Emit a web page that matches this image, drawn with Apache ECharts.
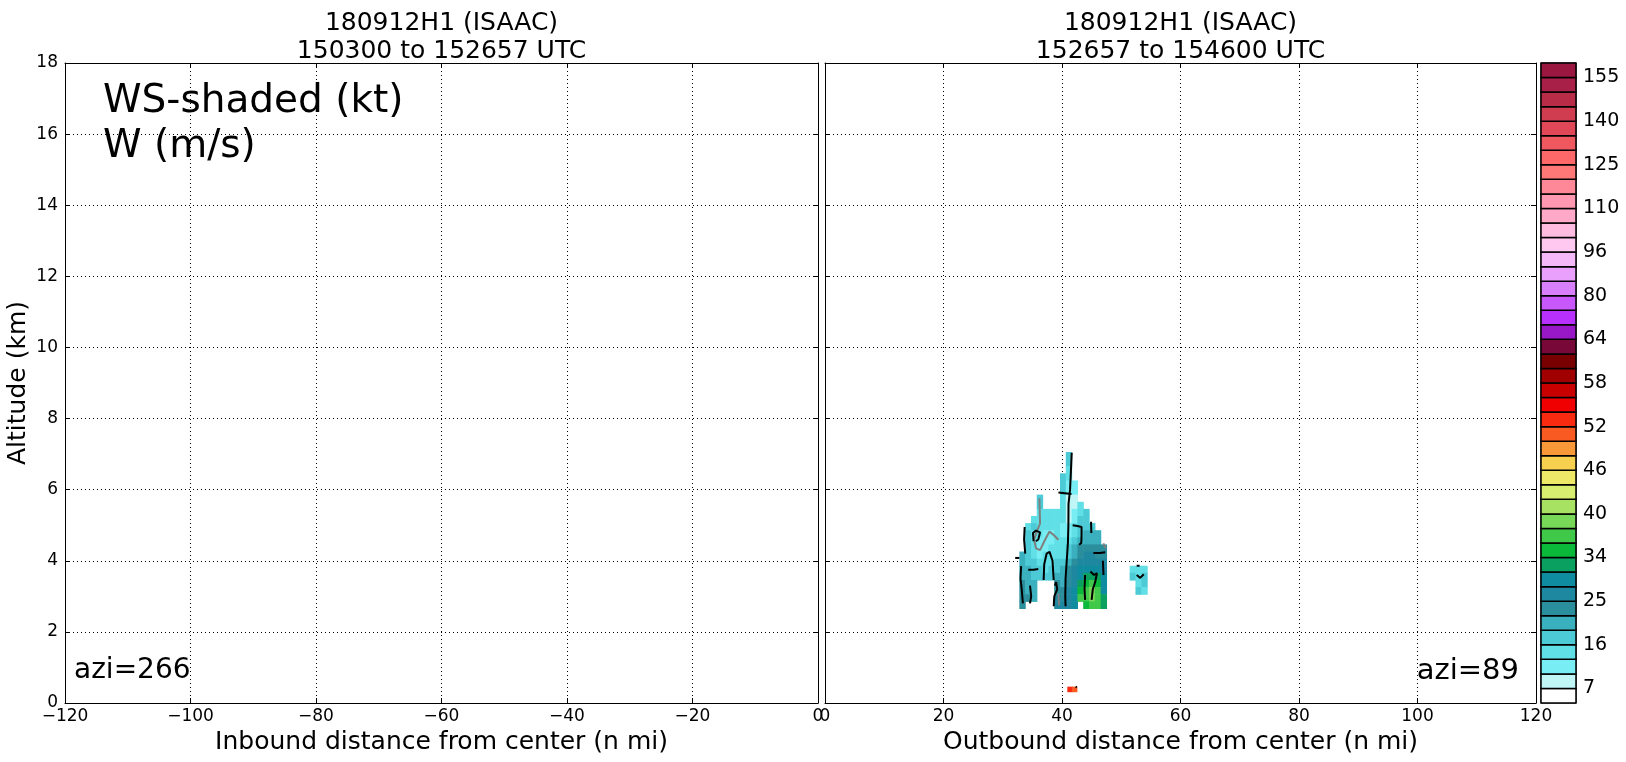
<!DOCTYPE html>
<html><head><meta charset="utf-8">
<script src="https://cdn.jsdelivr.net/npm/echarts@6/dist/echarts.min.js"></script>
<style>html,body{margin:0;padding:0;background:#fff}#c{width:1626px;height:762px}</style>
</head><body><div id="c"></div>
<script>
const FONT = 'DejaVu Sans';

// colour levels (kt) and colours of the WS shading, bottom to top
const levels = [0,7,10,13,16,19,22,25,28,31,34,36,38,40,42,44,46,48,50,52,54,56,58,60,62,64,69,75,80,85,91,96,101,105,110,115,120,125,130,135,140,145,150,155,160];
const colors = ['#ffffff','#c0f6f6','#78eef4','#60dfe6','#4ccad6','#3ab0bf','#2a8e9c','#1e88a0','#108ca0','#0aa060',
  '#0ab83a','#40c848','#78d858','#a8e262','#d8ee70','#eee868','#f8d050','#f89838','#f85a22','#f82a10',
  '#f00000','#c80000','#a00000','#780000','#780838','#9818c8','#b830fc','#c858fc','#d880fc','#e8a0fc',
  '#f4b8f8','#ffc8f0','#ffbce0','#ffa8c8','#ff98b0','#ff8898','#ff7878','#ff6868','#f05860','#e04858',
  '#d03c50','#b82c48','#a82048','#9a1840'];
const cbTickIndex = [1,4,7,10,13,16,19,22,25,28,31,34,37,40,43];
const cbTickLabels = ['7','16','25','34','40','46','52','58','64','80','96','110','125','140','155'];

// main WS field (kt), rows top -> bottom; grid origin / spacing in data units
const wsX0 = 32.8, wsDX = 0.98, wsY0 = 2.66, wsDY = 0.2;
const wsRows = [
  [0,0,0,0,0,0,0,0,17,0,0,0,0,0,0],
  [0,0,0,0,0,0,0,0,16,0,0,0,0,0,0],
  [0,0,0,0,0,0,0,0,15,0,0,0,0,0,0],
  [0,0,0,0,0,0,0,17,14,0,0,0,0,0,0],
  [0,0,0,0,0,0,0,16,12,12,0,0,0,0,0],
  [0,0,0,0,0,0,0,16,10,10,0,0,0,0,0],
  [0,0,0,17,0,0,0,15,9,9,0,0,0,0,0],
  [0,0,0,16,0,0,0,15,8,9,14,0,0,0,0],
  [0,0,0,15,15,15,15,14,8,10,15,16,0,0,0],
  [0,0,15,14,14,14,14,13,9,11,16,17,0,0,0],
  [0,15,16,14,13,13,14,12,10,13,17,18,18,0,0],
  [0,16,15,13,12,12,13,12,12,15,18,19,19,19,0],
  [0,17,14,12,11,12,13,13,14,17,20,21,21,20,0],
  [0,16,14,11,12,13,14,14,16,19,22,23,23,22,22],
  [19,17,15,12,13,14,15,15,18,21,24,25,25,24,24],
  [20,18,16,15,14,15,17,17,20,23,26,27,27,27,26],
  [21,19,17,16,15,16,18,19,22,25,28,29,30,29,27],
  [21,20,18,17,16,17,20,20,23,26,30,32,33,32,28],
  [22,20,19,0,0,0,22,21,24,27,33,35,36,35,29],
  [22,21,20,0,0,0,24,22,25,28,35,37,38,36,30],
  [23,22,21,0,0,0,25,24,26,29,36,37,38,37,32],
  [24,0,0,0,0,0,26,26,27,29,0,35,37,36,33]
];
// small blob near 53 n mi
const blobX0 = 51.42, blobY0 = 3.06;
const blobRows = [
  [15,14,15],
  [16,15,16],
  [0,15,16],
  [0,16,15]
];
// red patch near the surface
const redX0 = 40.9, redY0 = 0.32, redDX = 0.8, redDY = 0.14;
const redRows = [[53,50]];

// W contours (m/s)
const wBlack = [
  [[41.64,7.04],[41.5,6.5],[41.36,6.0],[41.1,5.6],[41.08,5.0],[41.0,4.5],[40.8,4.0],[40.6,3.5],[40.55,3.0],[40.6,2.72]],
  [[39.4,5.92],[40.5,5.9],[41.6,5.88]],
  [[41.8,5.0],[42.6,4.98],[43.3,4.95],[43.3,4.7],[43.25,4.5],[42.9,4.45]],
  [[44.9,5.1],[44.95,4.78]],
  [[33.7,4.95],[33.6,4.6],[33.8,4.2]],
  [[35.2,4.55],[35.1,4.78],[35.6,4.85],[36.3,4.8],[36.0,4.6],[35.6,4.55]],
  [[36.9,3.46],[37.0,3.9],[37.4,4.2],[37.9,4.25],[38.4,4.0],[38.6,3.46]],
  [[34.3,3.75],[35.2,3.75],[36.0,3.77]],
  [[33.1,3.85],[33.0,3.5],[33.2,3.2],[33.4,2.8]],
  [[45.3,4.22],[46.4,4.22],[47.3,4.24]],
  [[44.8,3.7],[45.4,3.6],[45.9,3.65],[45.6,3.4],[45.2,3.2],[45.0,2.9]],
  [[38.6,2.72],[38.7,3.0],[39.2,3.2],[39.0,3.4],[38.8,3.3]],
  [[32.1,4.08],[32.8,4.08]],
  [[52.6,3.6],[53.2,3.52],[53.8,3.62]],
  [[52.6,3.86],[53.1,3.86]],
  [[42.3,0.46],[42.5,0.44]],
  [[34.6,3.3],[34.8,3.0],[34.6,2.8]],
  [[43.9,3.6],[43.8,3.2],[43.9,2.9]],
  [[46.9,4.0],[47.0,3.6]]
];
const wGray = [
  [[36.19,5.76],[36.3,5.05],[35.74,4.82],[35.29,4.59],[35.62,4.35],[36.3,4.3],[37.14,4.59],[37.87,4.82],[38.55,4.73],[39.39,4.59]],
  [[46.98,4.49],[47.4,4.35]],
  [[39.39,3.08],[39.5,2.75]]
];

function colorFor(v) {
  for (let i = levels.length - 2; i >= 0; i--) if (v >= levels[i]) return colors[i];
  return colors[0];
}
function addBlock(rows, x0, y0, dx, dy, out) {
  const n = rows.length;
  rows.forEach((row, i) => {
    const r = n - 1 - i;
    row.forEach((v, c) => { if (v > 0) out.push([x0 + c * dx, y0 + r * dy, dx, dy, v]); });
  });
}
const cells = [];
addBlock(wsRows, wsX0, wsY0, wsDX, wsDY, cells);
addBlock(blobRows, blobX0, blobY0, wsDX, wsDY, cells);
addBlock(redRows, redX0, redY0, redDX, redDY, cells);

function renderCell(params, api) {
  const x = api.value(0), y = api.value(1), w = api.value(2), h = api.value(3);
  const a = api.coord([x, y]), b = api.coord([x + w, y + h]);
  return { type: 'rect', shape: { x: a[0], y: b[1], width: b[0] - a[0] + 0.6, height: a[1] - b[1] + 0.6 },
    style: { fill: colorFor(api.value(4)) } };
}
function renderCb(params, api) {
  const i = api.value(1);
  const a = api.coord([0, i]), b = api.coord([1, i + 1]);
  return { type: 'rect', shape: { x: a[0], y: b[1], width: b[0] - a[0], height: a[1] - b[1] },
    style: { fill: colors[api.value(2)], stroke: '#000', lineWidth: 1.5 } };
}

const lineStyle = { color: '#000', width: 1 };
const tick = { show: true, inside: true, length: 5, lineStyle: { color: '#000', width: 1 } };
const dotted = { show: true, lineStyle: { color: '#000', width: 1, type: [1, 3] } };
const lab = { fontFamily: FONT, fontSize: 17, color: '#000' };
const minus = v => v < 0 ? '\u2212' + (-v) : String(v);

const xAxis = [
  { gridIndex: 0, type: 'value', min: -120, max: 0, interval: 20, position: 'bottom',
    axisLine: { show: true, onZero: false, lineStyle }, axisTick: tick,
    axisLabel: Object.assign({ margin: 5, formatter: minus }, lab), splitLine: dotted,
    name: 'Inbound distance from center (n mi)', nameLocation: 'middle', nameGap: 25,
    nameTextStyle: { fontFamily: FONT, fontSize: 25, color: '#000' } },
  { gridIndex: 0, type: 'value', min: -120, max: 0, interval: 20, position: 'top',
    axisLine: { show: true, onZero: false, lineStyle }, axisTick: tick, axisLabel: { show: false }, splitLine: { show: false } },
  { gridIndex: 1, type: 'value', min: 0, max: 120, interval: 20, position: 'bottom',
    axisLine: { show: true, onZero: false, lineStyle }, axisTick: tick,
    axisLabel: Object.assign({ margin: 5 }, lab), splitLine: dotted,
    name: 'Outbound distance from center (n mi)', nameLocation: 'middle', nameGap: 25,
    nameTextStyle: { fontFamily: FONT, fontSize: 25, color: '#000' } },
  { gridIndex: 1, type: 'value', min: 0, max: 120, interval: 20, position: 'top',
    axisLine: { show: true, onZero: false, lineStyle }, axisTick: tick, axisLabel: { show: false }, splitLine: { show: false } },
  { gridIndex: 2, type: 'value', min: 0, max: 1, show: false }
];
const yAxis = [
  { gridIndex: 0, type: 'value', min: 0, max: 18, interval: 2, position: 'left',
    axisLine: { show: true, onZero: false, lineStyle }, axisTick: tick,
    axisLabel: Object.assign({ margin: 7 }, lab), splitLine: dotted,
    name: 'Altitude (km)', nameLocation: 'middle', nameGap: 34, nameRotate: 90,
    nameTextStyle: { fontFamily: FONT, fontSize: 25, color: '#000' } },
  { gridIndex: 0, type: 'value', min: 0, max: 18, interval: 2, position: 'right',
    axisLine: { show: true, onZero: false, lineStyle }, axisTick: tick, axisLabel: { show: false }, splitLine: { show: false } },
  { gridIndex: 1, type: 'value', min: 0, max: 18, interval: 2, position: 'left',
    axisLine: { show: true, onZero: false, lineStyle }, axisTick: tick, axisLabel: { show: false }, splitLine: dotted },
  { gridIndex: 1, type: 'value', min: 0, max: 18, interval: 2, position: 'right',
    axisLine: { show: true, onZero: false, lineStyle }, axisTick: tick, axisLabel: { show: false }, splitLine: { show: false } },
  { gridIndex: 2, type: 'value', min: 0, max: colors.length, interval: 1, position: 'right',
    axisLine: { show: false }, axisTick: { show: false }, splitLine: { show: false },
    axisLabel: { margin: 7, fontFamily: FONT, fontSize: 19, color: '#000',
      formatter: v => { const k = cbTickIndex.indexOf(v); return k >= 0 ? cbTickLabels[k] : ''; } } }
];

const series = [
  { type: 'custom', xAxisIndex: 2, yAxisIndex: 2, data: cells, renderItem: renderCell,
    encode: { x: 0, y: 1 }, z: 2, silent: true },
  { type: 'custom', xAxisIndex: 4, yAxisIndex: 4, data: colors.map((c, i) => [0, i, i]), renderItem: renderCb,
    encode: { x: 0, y: 1 }, z: 2, silent: true }
];
wGray.forEach(l => series.push({ type: 'line', xAxisIndex: 2, yAxisIndex: 2, data: l, symbol: 'none',
  lineStyle: { color: '#7f7f7f', width: 2 }, z: 4, silent: true }));
wBlack.forEach(l => series.push({ type: 'line', xAxisIndex: 2, yAxisIndex: 2, data: l, symbol: 'none',
  lineStyle: { color: '#000', width: 2 }, z: 5, silent: true }));

function txt(x, y, text, size, align) {
  return { type: 'text', x, y, z: 100, style: { text, fontFamily: FONT, fontSize: size, fill: '#000',
    align, textAlign: align, verticalAlign: 'middle', textVerticalAlign: 'middle' } };
}

const option = {
  animation: false,
  backgroundColor: '#fff',
  grid: [
    { left: 65, top: 63, width: 753, height: 640, outerBoundsMode: 'none', containLabel: false },
    { left: 825, top: 63, width: 711, height: 640, outerBoundsMode: 'none', containLabel: false },
    { left: 1541, top: 63, width: 35, height: 640, outerBoundsMode: 'none', containLabel: false,
      show: true, borderColor: '#000', borderWidth: 1 }
  ],
  xAxis, yAxis, series,
  graphic: [
    txt(441.5, 23, '180912H1 (ISAAC)', 25, 'center'),
    txt(441.5, 51, '150300 to 152657 UTC', 25, 'center'),
    txt(1180.5, 23, '180912H1 (ISAAC)', 25, 'center'),
    txt(1180.5, 51, '152657 to 154600 UTC', 25, 'center'),
    txt(103, 102, 'WS-shaded (kt)', 39, 'left'),
    txt(103, 147, 'W (m/s)', 39, 'left'),
    txt(74, 671, 'azi=266', 28, 'left'),
    txt(1519, 671, 'azi=89', 29, 'right')
  ]
};
const chart = echarts.init(document.getElementById('c'), null, { renderer: 'canvas' });
chart.setOption(option);
</script></body></html>
